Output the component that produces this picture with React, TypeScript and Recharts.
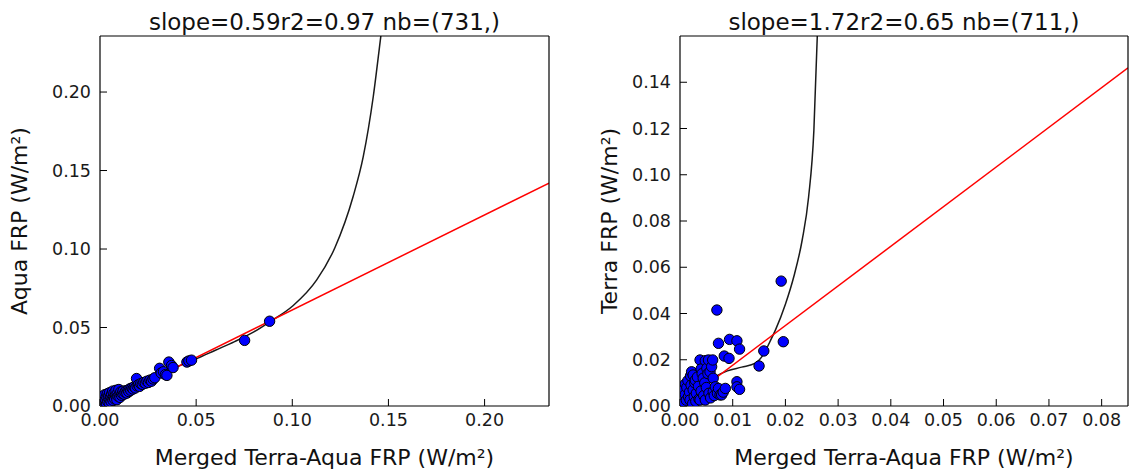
import React from 'react';
import { ComposedChart, Scatter, Line, XAxis, YAxis } from 'recharts';

const FONT = '"DejaVu Sans", Verdana, sans-serif';

// ---------- Left panel (Aqua) ----------
const leftTitle = 'slope=0.59r2=0.97 nb=(731,)';
const leftYLabel = 'Aqua FRP (W/m²)';
const xLabel = 'Merged Terra-Aqua FRP (W/m²)';
const leftXTicks = [0, 0.05, 0.1, 0.15, 0.2];
const leftYTicks = [0, 0.05, 0.1, 0.15, 0.2];
const leftXMax = 0.2335;
const leftYMax = 0.2357;

const leftPoints = [
  [0.0003, 0.0005], [0.0008, 0.0022], [0.001, 0.0045], [0.0012, 0.001], [0.0015, 0.0062],
  [0.0018, 0.003], [0.002, 0.0008], [0.0022, 0.005], [0.0025, 0.0072], [0.0028, 0.002],
  [0.003, 0.004], [0.0033, 0.006], [0.0035, 0.0012], [0.0038, 0.0078], [0.004, 0.003],
  [0.0043, 0.0052], [0.0046, 0.0068], [0.0048, 0.002], [0.005, 0.0085], [0.0053, 0.004],
  [0.0056, 0.006], [0.0058, 0.0028], [0.006, 0.0075], [0.0064, 0.0048], [0.0066, 0.0095],
  [0.0068, 0.0035], [0.007, 0.0062], [0.0073, 0.0082], [0.0076, 0.0045], [0.008, 0.007],
  [0.0083, 0.01], [0.0085, 0.0055], [0.0088, 0.004], [0.009, 0.008], [0.0094, 0.0062],
  [0.0098, 0.0105], [0.01, 0.0072], [0.0104, 0.0055], [0.0108, 0.009], [0.0112, 0.0068],
  [0.0116, 0.008], [0.012, 0.0095], [0.0125, 0.0075], [0.013, 0.0088], [0.0136, 0.0098],
  [0.014, 0.0082], [0.0146, 0.0102], [0.015, 0.0092], [0.0156, 0.011], [0.016, 0.01],
  [0.0166, 0.0115], [0.0172, 0.0108], [0.0178, 0.0122], [0.0184, 0.0115], [0.019, 0.0175],
  [0.0193, 0.0128], [0.02, 0.0135], [0.0206, 0.0125], [0.0212, 0.0142], [0.022, 0.0138],
  [0.0228, 0.015], [0.0236, 0.0145], [0.0244, 0.0158], [0.0252, 0.015], [0.026, 0.0165],
  [0.0268, 0.0158], [0.0276, 0.0172], [0.0285, 0.018], [0.031, 0.024], [0.0318, 0.021],
  [0.033, 0.0218], [0.034, 0.02], [0.0348, 0.0195], [0.0358, 0.028], [0.0372, 0.0258],
  [0.038, 0.0245], [0.0452, 0.028], [0.0462, 0.0287], [0.0476, 0.0292], [0.0752, 0.0418],
  [0.0882, 0.054],
];

const leftFit = [
  [0, 0.0015], [0.01, 0.0075], [0.02, 0.0135], [0.03, 0.0195], [0.04, 0.025],
  [0.05, 0.03], [0.06, 0.0355], [0.07, 0.041], [0.08, 0.0472], [0.0884, 0.0537],
  [0.1005, 0.064], [0.1127, 0.0803], [0.1222, 0.101], [0.1316, 0.1333], [0.1369, 0.1588],
  [0.1421, 0.197], [0.146, 0.2352], [0.1495, 0.27],
];

const leftReg = [[0, 0.0006], [0.2335, 0.142]];

// ---------- Right panel (Terra) ----------
const rightTitle = 'slope=1.72r2=0.65 nb=(711,)';
const rightYLabel = 'Terra FRP (W/m²)';
const rightXTicks = [0, 0.01, 0.02, 0.03, 0.04, 0.05, 0.06, 0.07, 0.08];
const rightYTicks = [0, 0.02, 0.04, 0.06, 0.08, 0.1, 0.12, 0.14];
const rightXMax = 0.085;
const rightYMax = 0.16;

const rightPoints = [
  [0.0003, 0.0005], [0.0005, 0.003], [0.0006, 0.007], [0.0008, 0.0015], [0.001, 0.005],
  [0.001, 0.0095], [0.0012, 0.0025], [0.0013, 0.008], [0.0015, 0.011], [0.0016, 0.004],
  [0.0018, 0.006], [0.0019, 0.0026], [0.002, 0.013], [0.0021, 0.009], [0.0022, 0.0148],
  [0.0024, 0.001], [0.0025, 0.007], [0.0025, 0.0134], [0.0027, 0.004], [0.0028, 0.01],
  [0.0029, 0.0112], [0.003, 0.002], [0.0031, 0.0055], [0.0033, 0.0125], [0.0035, 0.0085],
  [0.0036, 0.003], [0.0038, 0.0026], [0.0038, 0.0199], [0.004, 0.016], [0.004, 0.0065],
  [0.0042, 0.014], [0.0044, 0.012], [0.0045, 0.0045], [0.0047, 0.01], [0.0048, 0.0026],
  [0.0048, 0.0196], [0.005, 0.008], [0.0051, 0.0163], [0.0053, 0.014], [0.0054, 0.0199],
  [0.0055, 0.0055], [0.0057, 0.0148], [0.0058, 0.0035], [0.006, 0.017], [0.0062, 0.0199],
  [0.0063, 0.012], [0.0063, 0.0062], [0.0065, 0.0045], [0.0067, 0.0083], [0.007, 0.0415],
  [0.0071, 0.0055], [0.0073, 0.0271], [0.0073, 0.0076], [0.0076, 0.0048], [0.0079, 0.0048],
  [0.0082, 0.006], [0.0084, 0.0216], [0.0086, 0.0076], [0.0093, 0.0206], [0.0094, 0.0288],
  [0.0108, 0.0282], [0.0108, 0.0105], [0.0108, 0.0083], [0.0113, 0.0246], [0.0113, 0.0072],
  [0.015, 0.0173], [0.0159, 0.0238], [0.0192, 0.054], [0.0196, 0.0278],
];

const rightFit = [
  [0, 0.0004], [0.003, 0.0065], [0.0065, 0.0125], [0.009, 0.0152], [0.0117, 0.0168],
  [0.0143, 0.0185], [0.0158, 0.0222], [0.0171, 0.028], [0.0181, 0.0328], [0.02, 0.044],
  [0.0216, 0.056], [0.0232, 0.072], [0.0244, 0.0904], [0.0254, 0.1192], [0.02604, 0.1595],
  [0.0262, 0.172],
];

const rightReg = [[0, 0.0005], [0.085, 0.1462]];

const toObjs = (arr: number[][]) => arr.map(([x, y]) => ({ x, y }));
const fmt = (v: number) => v.toFixed(2);

const Marker = (props: any) => {
  const { cx, cy } = props;
  if (cx == null || cy == null) return null;
  return <circle cx={cx} cy={cy} r={5.2} fill="#0000ff" stroke="#000" strokeWidth={1} />;
};

const tickStyle = { fill: '#1a1a1a', fontSize: 17.5, fontFamily: FONT };

type PanelProps = {
  yAxisWidth: number;
  rightMargin: number;
  xMax: number;
  yMax: number;
  xTicks: number[];
  yTicks: number[];
  points: number[][];
  fit: number[][];
  reg: number[][];
};

function Panel(p: PanelProps) {
  return (
    <ComposedChart width={565} height={475} margin={{ top: 35, right: p.rightMargin, bottom: 0, left: 0 }}>
      <XAxis
        type="number" dataKey="x" domain={[0, p.xMax]} allowDataOverflow ticks={p.xTicks} interval={0}
        tickFormatter={fmt} tickSize={-7} tickMargin={15} height={69} stroke="#000"
        axisLine={{ stroke: '#000', strokeWidth: 1.2 }} tickLine={{ stroke: '#000' }} tick={tickStyle}
      />
      <XAxis
        xAxisId="top" orientation="top" type="number" domain={[0, p.xMax]} allowDataOverflow ticks={p.xTicks}
        interval={0} tick={false} tickSize={-7} height={1} stroke="#000"
        axisLine={{ stroke: '#000', strokeWidth: 1.2 }} tickLine={{ stroke: '#000' }}
      />
      <YAxis
        type="number" domain={[0, p.yMax]} allowDataOverflow ticks={p.yTicks} interval={0}
        tickFormatter={fmt} tickSize={-7} tickMargin={16} width={p.yAxisWidth} stroke="#000"
        axisLine={{ stroke: '#000', strokeWidth: 1.2 }} tickLine={{ stroke: '#000' }} tick={tickStyle}
      />
      <YAxis
        yAxisId="right" orientation="right" type="number" domain={[0, p.yMax]} allowDataOverflow
        ticks={p.yTicks} interval={0} tick={false} tickSize={-7} width={1} stroke="#000"
        axisLine={{ stroke: '#000', strokeWidth: 1.2 }} tickLine={{ stroke: '#000' }}
      />
      <Scatter data={toObjs(p.points)} dataKey="y" shape={Marker} isAnimationActive={false} />
      <Line data={toObjs(p.fit)} dataKey="y" type="monotone" stroke="#1a1a1a" strokeWidth={1.5}
        dot={false} activeDot={false} isAnimationActive={false} />
      <Line data={toObjs(p.reg)} dataKey="y" type="linear" stroke="#ff0000" strokeWidth={1.5}
        dot={false} activeDot={false} isAnimationActive={false} />
    </ComposedChart>
  );
}

export default function App() {
  return (
    <div style={{ position: 'absolute', left: 0, top: 0, width: 1130, height: 475, background: '#fff' }}>
      <div style={{ position: 'absolute', left: 0, top: 0 }}>
        <Panel yAxisWidth={100} rightMargin={15} xMax={leftXMax} yMax={leftYMax}
          xTicks={leftXTicks} yTicks={leftYTicks} points={leftPoints} fit={leftFit} reg={leftReg} />
      </div>
      <div style={{ position: 'absolute', left: 565, top: 0 }}>
        <Panel yAxisWidth={115} rightMargin={1} xMax={rightXMax} yMax={rightYMax}
          xTicks={rightXTicks} yTicks={rightYTicks} points={rightPoints} fit={rightFit} reg={rightReg} />
      </div>
      <svg width={1130} height={475} style={{ position: 'absolute', left: 0, top: 0, pointerEvents: 'none' }}>
        <g fontFamily={FONT} fill="#111">
          <text x={324.5} y={30} fontSize={23} textAnchor="middle">{leftTitle}</text>
          <text x={904} y={30} fontSize={23} textAnchor="middle">{rightTitle}</text>
          <text x={324.5} y={465} fontSize={22} textAnchor="middle">{xLabel}</text>
          <text x={904} y={465} fontSize={22} textAnchor="middle">{xLabel}</text>
          <text x={27} y={221} fontSize={22} textAnchor="middle" transform="rotate(-90, 27, 221)">{leftYLabel}</text>
          <text x={617} y={221} fontSize={22} textAnchor="middle" transform="rotate(-90, 617, 221)">{rightYLabel}</text>
        </g>
      </svg>
    </div>
  );
}
